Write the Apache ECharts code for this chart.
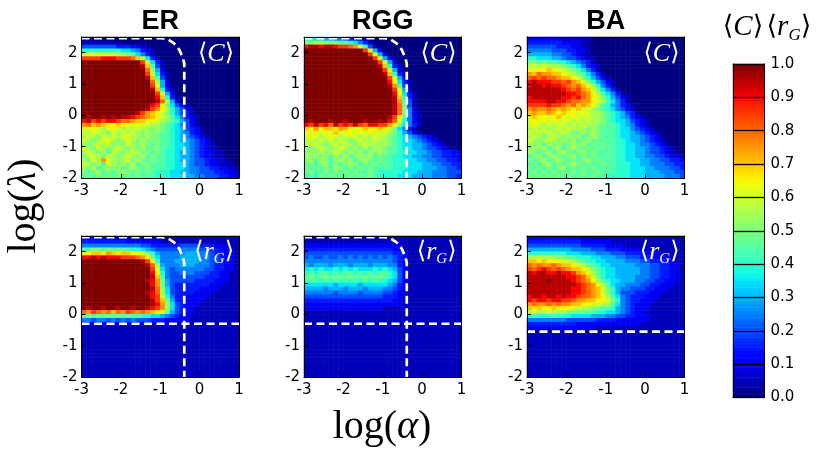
<!DOCTYPE html>
<html><head><meta charset="utf-8">
<script src="https://cdn.jsdelivr.net/npm/echarts/dist/echarts.min.js"></script>
<style>html,body{margin:0;padding:0;background:#fff}#c{width:830px;height:457px}</style>
</head><body><div id="c"></div>
<script>
// cell levels: char index in LEVELS / 20  (0 -> 0.0, a -> 0.5, k -> 1.0)
// rows listed from top (log lambda = 2.5) to bottom (-2); 32 columns from log alpha = -3 to 1
const LEVELS = '0123456789abcdefghijk';
const xTicks = [-3, -2, -1, 0, 1];
const yTicks = [-2, -1, 0, 1, 2];
const cbTicks = [0, 0.1, 0.2, 0.3, 0.4, 0.5, 0.6, 0.7, 0.8, 0.9, 1.0];
const titles = ['ER', 'RGG', 'BA'];

const erC = [
"00000000000000000000000000000000",
"11111111000000000000000000000000",
"44444443332211000000000000000000",
"88888888776532100000000000000000",
"cccccccbba9753100000000000000000",
"hhhhiiihhhgeb7310000000000000000",
"kkkkkkkkkkkkhc731000000000000000",
"kkkkkkkkkkkkje941000000000000000",
"kkkkkkkkkkkkkgb62000000000000000",
"kkkkkkkkkkkkkhc73100000000000000",
"kkkkkkkkkkkkkje94100000000000000",
"kkkkkkkkkkkkkkgb6200000000000000",
"kkkkkkkkkkkkkkhc6200000000000000",
"kkkkkkkkkkkkkkje8310000000000000",
"kkkkkkkkkkkkkkkhc620000000000000",
"kkkkkkkkkkkkkkkie831000000000000",
"kkkkkkkkkkkkkkkjgb62000000000000",
"kkkkkkkkkkkkkkihda74210000000000",
"kkkkkkkkkkkkkjhfdb86421000000000",
"kkkkkkkkkkkjhfedca86431000000000",
"kjkkjkjkjjihgfedcb97532100000000",
"ijhihiihggfeeddcba98642100000000",
"fgefeddeddcdccbba987542100000000",
"dcdcbcdcbcbcbbaba987643210000000",
"cbdcbacbcbcbabaa9987653210000000",
"bcbacbcbcdbbabaa9987654321000000",
"cbabcdbabcbabaaa9987665432100000",
"babcbcabacbaba9a9987765432100000",
"cbacbabcbabab9aa9887765432110000",
"bcbab9cbabcbaa9a9887665432211000",
"abcbacbabcbab9a99887665432211000",
"bacbfcbabcaba9a99887665443221100",
"cbab9cbabab9aa999887765443221110",
"bab9abab9aba9a999887765544332211",
"a9ab9a9aba9a9a988877665544433221",
"9a9a9a9a9a9a99988877766554443322"];

const rggC = [
"88776655432100000000000000000000",
"aabbaaa99875310000000000000000000",
"ijjijjihhgfc84100000000000000000",
"kkkkkkkkkkkkhc620000000000000000",
"kkkkkkkkkkkkkhc62000000000000000",
"kkkkkkkkkkkkkkhc6200000000000000",
"kkkkkkkkkkkkkkkhc620000000000000",
"kkkkkkkkkkkkkkkje831000000000000",
"kkkkkkkkkkkkkkkkhc62000000000000",
"kkkkkkkkkkkkkkkkje83100000000000",
"kkkkkkkkkkkkkkkkkhc6200000000000",
"kkkkkkkkkkkkkkkkkid7310000000000",
"kkkkkkkkkkkkkkkkkjf9410000000000",
"kkkkkkkkkkkkkkkkkkhc620000000000",
"kkkkkkkkkkkkkkkkkkid731000000000",
"kkkkkkkkkkkkkkkkkkje831000000000",
"kkkkkkkkkkkkkkkkkkjf941000000000",
"kkkkkkkkkkkkkkkkkkjga41000000000",
"kkkkkkkkkkkkkkkkkkjga52000000000",
"kkkkkkkkkkkkkkkkkkjga52100000000",
"kkkkkkkkkkkkkkkkkjhd952100000000",
"kjkkkjkkjkkkjkkjkigc852100000000",
"ihjhigjhihjhgiihhfda753100000000",
"edfdeedfedcdeddedca7531000000000",
"dcdcdcedcdcdcdcccba8642100000000",
"cdcbcdcbcccbcbccba98765432100000",
"bcbcbcbcbabcbbcbba98776543210000",
"cbcbabcbcbabcbbbba98776654321000",
"babcbabcbabababba998776654432110",
"abababcbabab9baba998877665443322",
"babab9bab9abab9a9988776655443322",
"ab9ba9abab9aba9a9988877665544332",
"9a9ab9a9aba9a9a99988877766554433",
"a9a9a9ba9a9a9a999988877766655443",
"9a99a9a9a9a99a988888777666555444",
"898a9a9a9a9a9a988887776666555443"];

const baC = [
"22222221111110000000000000000000",
"33333332222110000000000000000000",
"44444433322110000000000000000000",
"55555444332210000000000000000000",
"66666554432110000000000000000000",
"88777665443211000000000000000000",
"aa9a9988765431000000000000000000",
"bcbcbbba987532100000000000000000",
"dcddedccba9753100000000000000000",
"fegffeedcba975310000000000000000",
"ghghggfeedca86421000000000000000",
"ijiiihhghfeca8642100000000000000",
"ijjijiihgfgedb853100000000000000",
"jjjjjjjihghfeca75310000000000000",
"jjjjjjjjiihgfdb97531000000000000",
"ijjjjjjiihigfdca8642100000000000",
"iiiijjiihggffdcb9753100000000000",
"hhhhihhgfgefedb98653210000000000",
"fgffgfefedeccba98754210000000000",
"efeefededdcdcbba9876431000000000",
"deddcdedcdcccbba9876532100000000",
"cdcdcdcccbcbcbba9877643210000000",
"cdcbcbccbcbcbbaa9987653210000000",
"bcbcbbcbcbbbaba99987754321000000",
"cbcbcbbcbaababa99987765432100000",
"bcbabcbabab9aba99987766543210000",
"cbabcbabab9ab9a99988766543210000",
"bab9bab9abab9a9a9988776554321000",
"abab9ab9aba9a9a99988776654432100",
"ba9ab9aba9ab9a999988776654432110",
"9ab9aba9ab9a9a999988776655443221",
"a9ab9aba9a9ab9a99988777665544332",
"9a9ab9a9aba9a99a9988877665554433",
"a9a9a9ab9a9a9a999988877766555443",
"9a9a9a9a9a9a99a99988877766655544",
"a9a9a9a9a99a9a998888877766665554"];

const erR = [
"22222221111111111111111111111111",
"33333333322222221111111111111111",
"55555555555544333333444433322211",
"99aa9a9a998876544444555544332221",
"ddeedfedeeddca865555566655433221",
"iijijiiihhhgfda75555666655443221",
"kkkkkkkkkkkkjhd85556666655443221",
"kkkkkkkkkkkkkjgb6555666555433221",
"kkkkkkkkkkkkkkhc7545555554433221",
"kkkkkkkkkkkkkkid8544555444332211",
"kkkkkkkkkkkkkkje9544444443332211",
"kkkkkkkkkkkkkjifa644444333322211",
"kkkkkkkkkkkkkkifa643333333222111",
"kkkkkkkkkkkkkkjgb743333322221111",
"kkkkkkkkkkkkkjigb743333222211111",
"kkkkkkkkkkkkkkihc853322222111111",
"kkkkkkkkkkkkkkjhea63322221111111",
"kkkkkkkkkkkkkkjifb74322211111111",
"kjkkjkkjkkjkkjihfb74322111111111",
"gfhgfgegfhgfgfedc964322111111111",
"9a9a9a9a9a9988776543221111111111",
"55455454545444333222221111111111",
"22222222222222222211111111111111",
"11111111111111111111111111111111",
"11111111111111111111111111111111",
"11111111111111111111111111111111",
"11111111111111111111111111111111",
"11111111111111111111111111111111",
"11111111111111111111111111111111",
"11111111111111111111111111111111",
"11111111111111111111111111111111",
"11111111111111111111111111111111",
"11111111111111111111111111111111",
"11111111111111111111111111111111",
"11111111111111111111111111111111",
"11111111111111111111111111111111"];

const rggR = [
"11111111111111111111111111111111",
"11111111111111111111111111111111",
"22222222222222222222111111111111",
"33333333333333333322111111111111",
"44444444444444444433211111111111",
"45445445454545454543211111111111",
"55555555555555555543211111111111",
"65666566656665666553211111111111",
"78787787878777878764211111111111",
"89899898998989899874211111111111",
"9a99a99a9a99a99a9874211111111111",
"89989898989898988764211111111111",
"77777767777677777653211111111111",
"66665666566656665543211111111111",
"55555545555455554432211111111111",
"44444444444444443332111111111111",
"33333333333333333322111111111111",
"22222222222222222222111111111111",
"22222222222222221111111111111111",
"11111111111111111111111111111111",
"11111111111111111111111111111111",
"11111111111111111111111111111111",
"11111111111111111111111111111111",
"11111111111111111111111111111111",
"11111111111111111111111111111111",
"11111111111111111111111111111111",
"11111111111111111111111111111111",
"11111111111111111111111111111111",
"11111111111111111111111111111111",
"11111111111111111111111111111111",
"11111111111111111111111111111111",
"11111111111111111111111111111111",
"11111111111111111111111111111111",
"11111111111111111111111111111111",
"11111111111111111111111111111111",
"11111111111111111111111111111111"];

const baR = [
"22222222222111111111111111111111",
"33333333333222222111111111111111",
"44444444444333332222111111111111",
"66666666655554443332222111111111",
"88888888777666555444333322211111",
"bbcbbbaa998887766655444333222111",
"eededddccba988776666555443332211",
"gfgffgfeedcba9877666665554433221",
"hghihghgfeedca987766666554433221",
"jijjiijiihfedb987766666554433221",
"jjjjjjjjiihgeca87766665554433221",
"jjjjkjjjjihgfdb98776665544332221",
"jjjjjjjjjjihgfdb9766555443322211",
"jjjjjjjjjiihgfeca865544433222111",
"jjjjjjjjjiihgfeca864443332221111",
"ijjijjijiihggfedb975433322211111",
"ihiihiihhgffeeddca85433222111111",
"fgffgfgffeeddccbb975432221111111",
"ededdedddccbbaa99865432221111111",
"bcbbcbbbaa9a99887765432211111111",
"89888988877776665544332221111111",
"55555555444444333322222221111111",
"33333333332222222222222111111111",
"22222222222222111111111111111111",
"11111111111111111111111111111111",
"11111111111111111111111111111111",
"11111111111111111111111111111111",
"11111111111111111111111111111111",
"11111111111111111111111111111111",
"11111111111111111111111111111111",
"11111111111111111111111111111111",
"11111111111111111111111111111111",
"11111111111111111111111111111111",
"11111111111111111111111111111111",
"11111111111111111111111111111111",
"11111111111111111111111111111111"];

// white dashed guide lines
const boundaryCurve = [[-3,2.46],[-0.95,2.46],[-0.8,2.42],[-0.65,2.3],[-0.52,2.1],[-0.43,1.85],[-0.39,1.65],[-0.39,-2]];
const erCut = -0.3, rggCut = -0.3, baCut = -0.55;

// ---------- build ----------
const NX = 32, NY = 36;
function decode(rows) {
  const out = [];
  rows.forEach((r, j) => {
    let s = r.slice(0, NX);
    while (s.length < NX) s += s[s.length - 1];
    for (let i = 0; i < NX; i++) out.push([i, NY - 1 - j, LEVELS.indexOf(s[i]) / 20]);
  });
  return out;
}
function seg(pts, t) {
  for (let k = 1; k < pts.length; k++) {
    if (t <= pts[k][0]) { const [x0, y0] = pts[k-1], [x1, y1] = pts[k]; return y0 + (y1 - y0) * (t - x0) / (x1 - x0); }
  }
  return pts[pts.length - 1][1];
}
const JR = [[0,0],[0.35,0],[0.66,1],[0.89,1],[1,0.5]];
const JG = [[0,0],[0.125,0],[0.375,1],[0.64,1],[0.91,0],[1,0]];
const JB = [[0,0.5],[0.11,1],[0.34,1],[0.65,0],[1,0]];
const jetColors = [];
for (let k = 0; k <= 100; k++) {
  const t = k / 100;
  jetColors.push('rgb(' + Math.round(255*seg(JR,t)) + ',' + Math.round(255*seg(JG,t)) + ',' + Math.round(255*seg(JB,t)) + ')');
}

const xCats = Array.from({length: NX}, (_, i) => 'x' + i);
const yCats = Array.from({length: NY}, (_, i) => 'y' + i);
const lefts = [81.5, 304, 527], tops = [37, 236], GW = 157.5, GH = 141;
const panelRows = [erC, rggC, baC, erR, rggR, baR];
const cuts = [null, null, null, erCut, rggCut, baCut];
const curves = [true, true, false, true, true, false];

const grid = [], xAxis = [], yAxis = [], series = [], heatIdx = [], graphic = [];
const tickFont = {fontFamily: 'DejaVu Sans', fontSize: 15, color: '#000'};
const frameLine = {show: true, onZero: false, lineStyle: {color: '#000', width: 1}};

panelRows.forEach((rows, k) => {
  grid.push({left: lefts[k % 3], top: tops[Math.floor(k / 3)], width: GW, height: GH, containLabel: false});
  xAxis.push({type: 'category', gridIndex: k, data: xCats, position: 'top', boundaryGap: true, z: 5,
    axisLine: frameLine, axisTick: {show: false}, axisLabel: {show: false}, splitLine: {show: false}});
  yAxis.push({type: 'category', gridIndex: k, data: yCats, position: 'right', boundaryGap: true, z: 5,
    axisLine: frameLine, axisTick: {show: false}, axisLabel: {show: false}, splitLine: {show: false}});
  xAxis.push({type: 'value', gridIndex: k, min: xTicks[0], max: xTicks[xTicks.length - 1], interval: 1, position: 'bottom', z: 5,
    axisLine: frameLine, axisTick: {show: true, inside: true, length: 4, lineStyle: {color: '#000'}},
    axisLabel: Object.assign({margin: 6, formatter: v => xTicks.includes(v) ? String(v) : ''}, tickFont),
    splitLine: {show: false}});
  yAxis.push({type: 'value', gridIndex: k, min: yTicks[0], max: 2.5, interval: 1, position: 'left', z: 5,
    axisLine: frameLine, axisTick: {show: true, inside: true, length: 4, lineStyle: {color: '#000'}},
    axisLabel: Object.assign({margin: 4, formatter: v => yTicks.includes(v) ? String(v) : ''}, tickFont),
    splitLine: {show: false}});
  heatIdx.push(series.length);
  series.push({type: 'heatmap', xAxisIndex: 2 * k, yAxisIndex: 2 * k, data: decode(rows),
    progressive: 0, silent: true, emphasis: {disabled: true}, z: 2});
  const dash = {color: '#fff', width: 2.7, type: [8, 4.5]};
  if (curves[k]) {
    series.push({type: 'line', xAxisIndex: 2 * k + 1, yAxisIndex: 2 * k + 1, data: boundaryCurve,
      symbol: 'none', silent: true, lineStyle: dash, z: 4, animation: false});
  }
  if (cuts[k] !== null) {
    series.push({type: 'line', xAxisIndex: 2 * k + 1, yAxisIndex: 2 * k + 1, data: [[xTicks[0], cuts[k]], [xTicks[xTicks.length - 1], cuts[k]]],
      symbol: 'none', silent: true, lineStyle: dash, z: 4, animation: false});
  }
});

// colour bar
const cbG = grid.length;
grid.push({left: 733, top: 64, width: 31.5, height: 333.5, containLabel: false});
const cbCats = Array.from({length: 100}, (_, i) => 'c' + i);
const cbX = xAxis.length;
xAxis.push({type: 'category', gridIndex: cbG, data: ['cb'], position: 'bottom', z: 5, axisLine: frameLine, axisTick: {show: false}, axisLabel: {show: false}});
xAxis.push({type: 'value', gridIndex: cbG, min: 0, max: 1, position: 'top', z: 5, axisLine: frameLine, axisTick: {show: false}, axisLabel: {show: false}, splitLine: {show: false}});
const cbY = yAxis.length;
yAxis.push({type: 'category', gridIndex: cbG, data: cbCats, position: 'left', z: 5, axisLine: frameLine, axisTick: {show: false}, axisLabel: {show: false}});
yAxis.push({type: 'value', gridIndex: cbG, min: 0, max: 1, interval: 0.1, position: 'right', z: 5,
  axisLine: frameLine, axisTick: {show: false},
  axisLabel: Object.assign({margin: 6, formatter: v => cbTicks.some(t => Math.abs(t - v) < 1e-6) ? v.toFixed(1) : ''}, tickFont),
  splitLine: {show: true, lineStyle: {color: '#000', width: 1.3}}});
heatIdx.push(series.length);
series.push({type: 'heatmap', xAxisIndex: cbX, yAxisIndex: cbY, data: cbCats.map((c, i) => [0, i, (i + 0.5) / 100]),
  progressive: 0, silent: true, emphasis: {disabled: true}, z: 2});

// texts
const serif = '"Liberation Serif", "DejaVu Serif", serif';
const brk = '"DejaVu Sans", "DejaVu Serif", sans-serif';
titles.forEach((t, i) => {
  graphic.push({type: 'text', x: lefts[i] + GW / 2, y: 22, z: 10,
    style: {text: t, font: 'bold 27px "Liberation Sans", Arial, sans-serif', fill: '#000', align: 'center', verticalAlign: 'middle'}});
});
function richC(color, sz) {
  return {b: {fontFamily: brk, fontSize: sz, fill: color}, i: {fontFamily: serif, fontStyle: 'italic', fontSize: sz + 2, fill: color},
          s: {fontFamily: serif, fontStyle: 'italic', fontSize: Math.round(sz * 0.62), fill: color, padding: [Math.round(sz * 0.62), 0, 0, 0]}};
}
for (let k = 0; k < 6; k++) {
  const isC = k < 3;
  graphic.push({type: 'text', x: lefts[k % 3] + GW - 5, y: tops[Math.floor(k / 3)] + (isC ? 17 : 16), z: 10,
    style: {text: isC ? '{b|⟨}{i|C}{b|⟩}' : '{b|⟨}{i|r}{s|G}{b|⟩}', rich: richC('#fff', 24), align: 'right', verticalAlign: 'middle'}});
}
graphic.push({type: 'text', x: 767, y: 27, z: 10,
  style: {text: '{b|⟨}{i|C}{b|⟩} {b|⟨}{i|r}{s|G}{b|⟩}', rich: richC('#000', 27), align: 'center', verticalAlign: 'middle'}});
const axRich = {n: {fontFamily: serif, fontSize: 40, fill: '#000'}, g: {fontFamily: serif, fontStyle: 'italic', fontSize: 40, fill: '#000'}};
graphic.push({type: 'text', x: 382, y: 427, z: 10,
  style: {text: '{n|log(}{g|α}{n|)}', rich: axRich, align: 'center', verticalAlign: 'middle'}});
graphic.push({type: 'text', x: 24, y: 206, rotation: Math.PI / 2, z: 10,
  style: {text: '{n|log(}{g|λ}{n|)}', rich: axRich, align: 'center', verticalAlign: 'middle'}});

const chart = echarts.init(document.getElementById('c'), null, {renderer: 'canvas'});
chart.setOption({
  animation: false,
  backgroundColor: '#fff',
  grid, xAxis, yAxis, series, graphic,
  visualMap: {type: 'continuous', show: false, min: 0, max: 1, dimension: 2, seriesIndex: heatIdx, inRange: {color: jetColors}}
});
</script>
</body></html>
